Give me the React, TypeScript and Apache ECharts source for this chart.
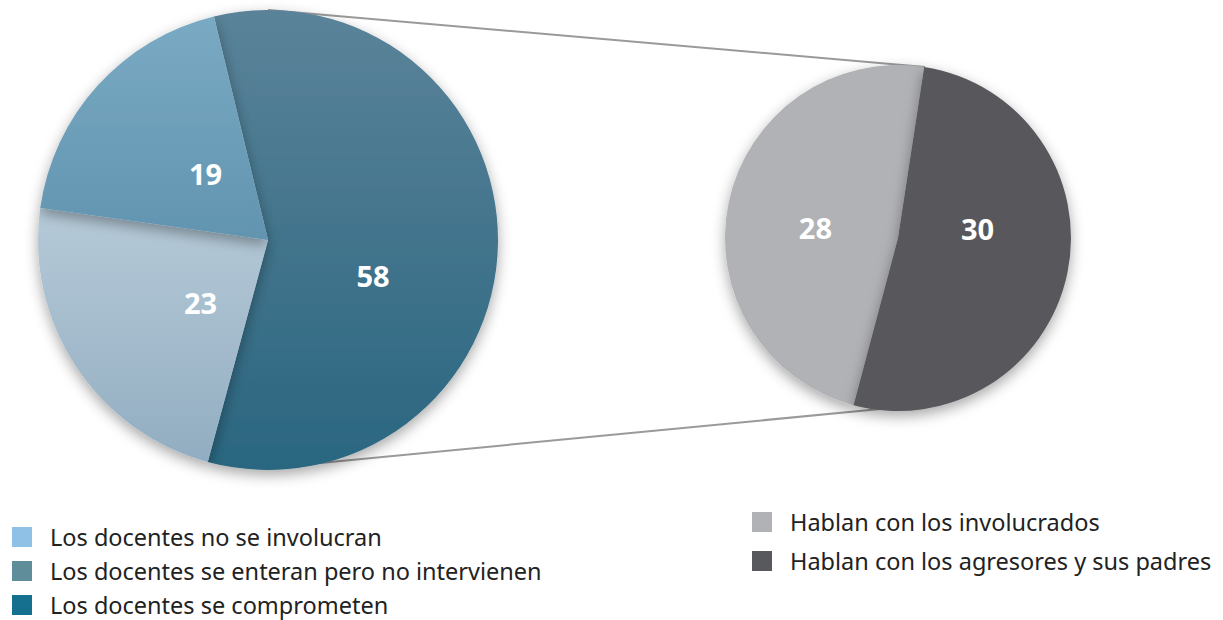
import React, { useEffect, useRef } from "react";
import * as echarts from "echarts";

const leftNames = [
  "Los docentes se comprometen",
  "Los docentes no se involucran",
  "Los docentes se enteran pero no intervienen",
];
const leftValues = [58, 23, 19];
const rightNames = ["Hablan con los involucrados", "Hablan con los agresores y sus padres"];
const rightValues = [28, 30];
const leftLegendOrder = [
  "Los docentes no se involucran",
  "Los docentes se enteran pero no intervienen",
  "Los docentes se comprometen",
];

const grad = (a: string, b: string) =>
  new echarts.graphic.LinearGradient(0, 0, 0, 1, [
    { offset: 0, color: a },
    { offset: 1, color: b },
  ]);

export default function App() {
  const ref = useRef<HTMLDivElement>(null);
  useEffect(() => {
    if (!ref.current) return;
    const chart = echarts.init(ref.current, null, { renderer: "svg" });
    const leftFill = [grad("#5a8399", "#2a6680"), grad("#b6cad8", "#92adc1"), grad("#7aaac3", "#6294b0")];
    const leftOffsets = [[-13, 34], [31, -2], [25, 13]];
    const rightFill = ["#b1b2b5", "#58595c"];
    const rightOffsets = [[5, 8], [-8, -28]];
    const leftLegendColors: Record<string, string> = {
      "Los docentes no se involucran": "#8fc0e6",
      "Los docentes se enteran pero no intervienen": "#5f8e9a",
      "Los docentes se comprometen": "#14708e",
    };
    const labelStyle = {
      show: true,
      position: "inside",
      formatter: "{c}",
      color: "#ffffff",
      fontSize: 29,
      fontWeight: "bold",
      fontFamily: "Open Sans",
    };
    const legendText = {
      fontSize: 23.5,
      color: "#222222",
      fontFamily: "Noto Sans",
      padding: [0, 0, 0, 13],
    };
    chart.setOption({
      animation: false,
      backgroundColor: "#ffffff",
      graphic: [
        {
          type: "line",
          z: 0,
          shape: { x1: 268, y1: 10, x2: 925, y2: 67 },
          style: { stroke: "#9a9a9a", lineWidth: 2 },
        },
        {
          type: "line",
          z: 0,
          shape: { x1: 268, y1: 468, x2: 880, y2: 409 },
          style: { stroke: "#9a9a9a", lineWidth: 2 },
        },
      ],
      legend: [
        {
          orient: "vertical",
          left: 7,
          top: 520,
          height: 110,
          itemWidth: 20,
          itemHeight: 20,
          itemGap: 10,
          icon: "rect",
          selectedMode: false,
          textStyle: legendText,
          data: leftLegendOrder.map((n) => ({ name: n, itemStyle: { color: leftLegendColors[n] } })),
        },
        {
          orient: "vertical",
          left: 747,
          top: 505,
          height: 100,
          itemWidth: 20,
          itemHeight: 20,
          itemGap: 15,
          icon: "rect",
          selectedMode: false,
          textStyle: legendText,
          data: rightNames.map((n, i) => ({ name: n, itemStyle: { color: rightFill[i] } })),
        },
      ],
      series: [
        {
          type: "pie",
          center: [268, 240],
          radius: 230,
          startAngle: 103.6,
          clockwise: true,
          silent: true,
          z: 2,
          label: labelStyle,
          labelLine: { show: false },
          itemStyle: {
            borderWidth: 0,
            shadowBlur: 14,
            shadowColor: "rgba(0,0,0,0.35)",
            shadowOffsetY: 5,
          },
          data: leftNames.map((n, i) => ({
            name: n,
            value: leftValues[i],
            itemStyle: { color: leftFill[i] },
            label: { offset: leftOffsets[i] },
          })),
        },
        {
          type: "pie",
          center: [898, 238],
          radius: 173,
          startAngle: 255.1,
          clockwise: true,
          silent: true,
          z: 2,
          label: labelStyle,
          labelLine: { show: false },
          itemStyle: {
            borderWidth: 0,
            shadowBlur: 14,
            shadowColor: "rgba(0,0,0,0.35)",
            shadowOffsetY: 5,
          },
          data: rightNames.map((n, i) => ({
            name: n,
            value: rightValues[i],
            itemStyle: { color: rightFill[i] },
            label: { offset: rightOffsets[i] },
          })),
        },
      ],
    });
    return () => chart.dispose();
  }, []);
  return (
    <div
      ref={ref}
      style={{ position: "fixed", left: 0, top: 0, width: 1223, height: 620 }}
    />
  );
}
